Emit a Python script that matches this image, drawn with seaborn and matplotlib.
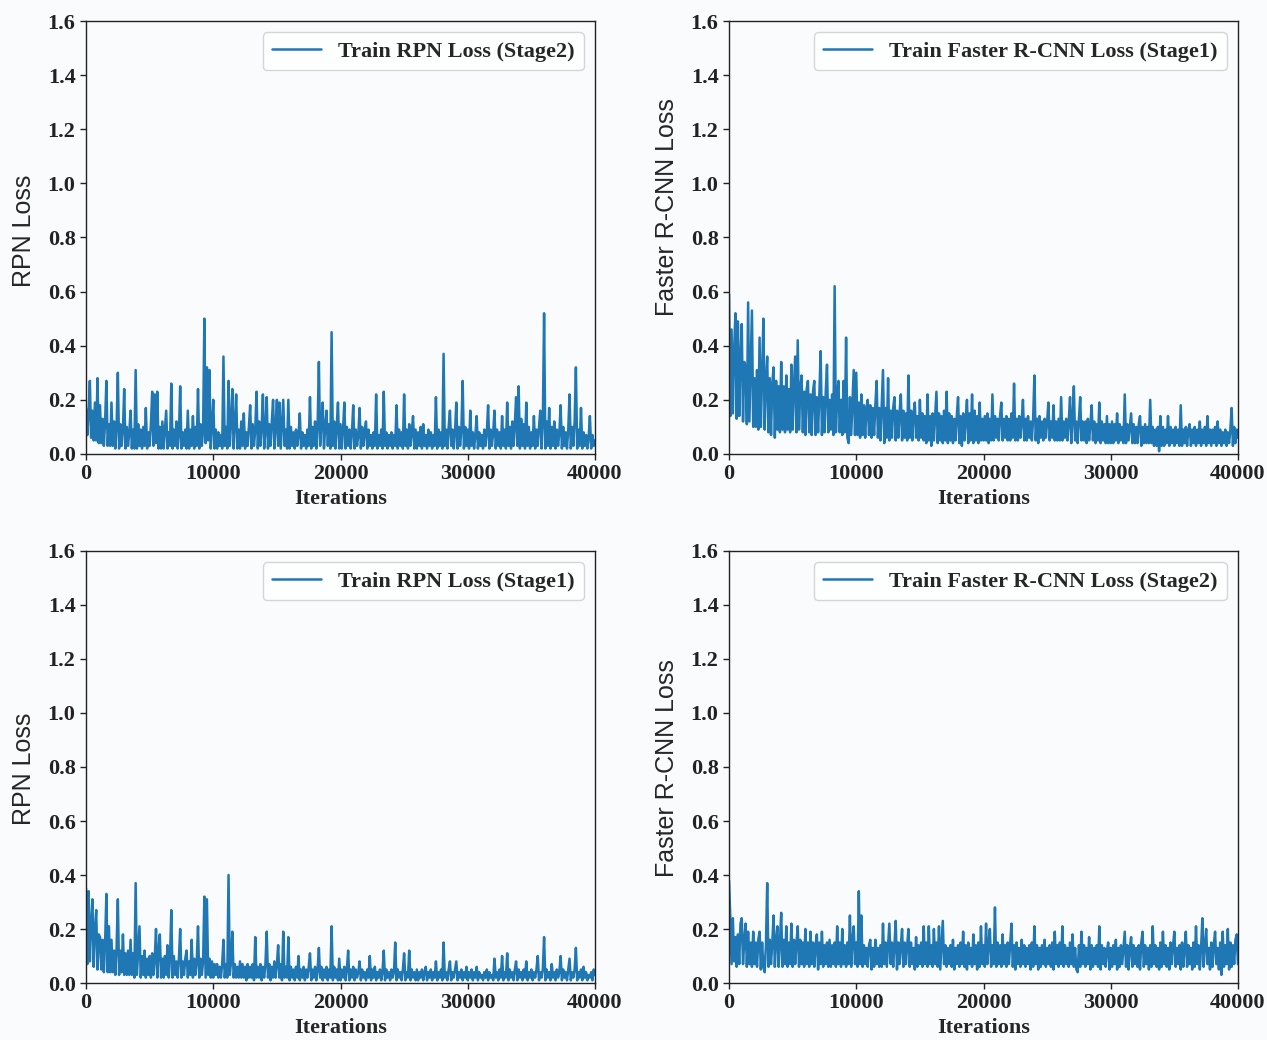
import numpy as np
import pandas as pd
import seaborn as sns
import matplotlib.pyplot as plt

# iterations sampled every 100 steps (0 .. 40000)
iterations = np.arange(0, 40001, 100)

# values, 20 per row (= 2000 iterations per row)
rpn_stage2 = [
    0.17, 0.07, 0.15, 0.27, 0.06, 0.16, 0.05, 0.19, 0.05, 0.28, 0.04, 0.18, 0.04, 0.13, 0.03, 0.12, 0.27, 0.03, 0.11, 0.03,
    0.19, 0.03, 0.12, 0.02, 0.10, 0.30, 0.02, 0.11, 0.03, 0.09, 0.24, 0.02, 0.10, 0.03, 0.08, 0.16, 0.02, 0.09, 0.02, 0.31,
    0.02, 0.11, 0.03, 0.09, 0.02, 0.10, 0.03, 0.17, 0.02, 0.08, 0.03, 0.11, 0.23, 0.03, 0.22, 0.04, 0.23, 0.02, 0.10, 0.02,
    0.12, 0.02, 0.09, 0.16, 0.02, 0.08, 0.03, 0.26, 0.02, 0.09, 0.03, 0.12, 0.02, 0.07, 0.25, 0.02, 0.08, 0.03, 0.09, 0.02,
    0.16, 0.02, 0.09, 0.03, 0.14, 0.02, 0.10, 0.03, 0.24, 0.02, 0.11, 0.03, 0.09, 0.50, 0.04, 0.32, 0.05, 0.31, 0.02, 0.10,
    0.20, 0.02, 0.09, 0.02, 0.08, 0.03, 0.07, 0.02, 0.36, 0.03, 0.10, 0.02, 0.27, 0.03, 0.12, 0.24, 0.02, 0.11, 0.22, 0.02,
    0.09, 0.02, 0.12, 0.03, 0.15, 0.02, 0.08, 0.03, 0.10, 0.18, 0.02, 0.11, 0.03, 0.09, 0.23, 0.02, 0.12, 0.03, 0.10, 0.22,
    0.02, 0.09, 0.21, 0.02, 0.11, 0.03, 0.12, 0.20, 0.02, 0.10, 0.20, 0.03, 0.19, 0.02, 0.11, 0.20, 0.03, 0.09, 0.02, 0.20,
    0.02, 0.10, 0.03, 0.08, 0.02, 0.09, 0.03, 0.07, 0.15, 0.02, 0.08, 0.03, 0.07, 0.02, 0.09, 0.03, 0.21, 0.02, 0.10, 0.03,
    0.12, 0.02, 0.10, 0.34, 0.03, 0.12, 0.19, 0.02, 0.10, 0.16, 0.03, 0.11, 0.02, 0.45, 0.03, 0.12, 0.02, 0.10, 0.19, 0.02,
    0.11, 0.02, 0.09, 0.19, 0.02, 0.10, 0.03, 0.09, 0.02, 0.08, 0.18, 0.02, 0.09, 0.03, 0.07, 0.17, 0.02, 0.10, 0.03, 0.08,
    0.12, 0.02, 0.09, 0.03, 0.07, 0.02, 0.08, 0.03, 0.22, 0.02, 0.07, 0.03, 0.09, 0.02, 0.23, 0.03, 0.08, 0.02, 0.07, 0.03,
    0.08, 0.02, 0.07, 0.03, 0.18, 0.02, 0.09, 0.03, 0.08, 0.02, 0.22, 0.03, 0.09, 0.02, 0.11, 0.03, 0.08, 0.14, 0.02, 0.09,
    0.02, 0.08, 0.03, 0.10, 0.02, 0.11, 0.03, 0.07, 0.02, 0.09, 0.03, 0.08, 0.02, 0.07, 0.03, 0.21, 0.02, 0.09, 0.03, 0.08,
    0.02, 0.37, 0.03, 0.09, 0.02, 0.10, 0.16, 0.03, 0.09, 0.02, 0.08, 0.19, 0.02, 0.10, 0.03, 0.09, 0.27, 0.02, 0.10, 0.03,
    0.09, 0.02, 0.16, 0.03, 0.08, 0.02, 0.07, 0.14, 0.02, 0.08, 0.03, 0.07, 0.02, 0.09, 0.03, 0.08, 0.18, 0.02, 0.09, 0.03,
    0.08, 0.16, 0.02, 0.09, 0.03, 0.08, 0.02, 0.14, 0.03, 0.09, 0.02, 0.19, 0.03, 0.10, 0.02, 0.12, 0.03, 0.11, 0.21, 0.03,
    0.25, 0.02, 0.13, 0.03, 0.11, 0.02, 0.19, 0.03, 0.10, 0.02, 0.08, 0.03, 0.14, 0.02, 0.09, 0.03, 0.10, 0.16, 0.02, 0.11,
    0.52, 0.02, 0.12, 0.03, 0.17, 0.02, 0.10, 0.03, 0.12, 0.02, 0.09, 0.03, 0.08, 0.18, 0.02, 0.10, 0.03, 0.08, 0.02, 0.09,
    0.22, 0.02, 0.10, 0.03, 0.12, 0.32, 0.02, 0.09, 0.03, 0.17, 0.02, 0.08, 0.03, 0.07, 0.02, 0.06, 0.14, 0.02, 0.07, 0.03,
    0.05,
]

frcnn_stage1 = [
    0.59, 0.14, 0.46, 0.15, 0.38, 0.52, 0.13, 0.49, 0.14, 0.36, 0.48, 0.12, 0.34, 0.32, 0.11, 0.56, 0.12, 0.33, 0.53, 0.10,
    0.28, 0.10, 0.31, 0.09, 0.43, 0.10, 0.29, 0.50, 0.09, 0.27, 0.36, 0.08, 0.28, 0.07, 0.26, 0.32, 0.06, 0.27, 0.09, 0.25,
    0.08, 0.34, 0.09, 0.25, 0.08, 0.29, 0.09, 0.24, 0.08, 0.33, 0.09, 0.25, 0.36, 0.08, 0.42, 0.09, 0.24, 0.29, 0.08, 0.23,
    0.07, 0.24, 0.27, 0.08, 0.22, 0.07, 0.23, 0.27, 0.07, 0.21, 0.08, 0.22, 0.38, 0.07, 0.21, 0.08, 0.23, 0.33, 0.08, 0.20,
    0.09, 0.22, 0.07, 0.62, 0.08, 0.21, 0.27, 0.08, 0.20, 0.07, 0.27, 0.08, 0.43, 0.06, 0.04, 0.21, 0.07, 0.19, 0.31, 0.07,
    0.30, 0.07, 0.19, 0.06, 0.22, 0.07, 0.18, 0.06, 0.17, 0.20, 0.07, 0.18, 0.06, 0.17, 0.07, 0.18, 0.27, 0.06, 0.17, 0.05,
    0.18, 0.31, 0.04, 0.17, 0.06, 0.28, 0.05, 0.16, 0.06, 0.17, 0.21, 0.05, 0.16, 0.06, 0.15, 0.22, 0.05, 0.16, 0.06, 0.15,
    0.05, 0.29, 0.06, 0.16, 0.05, 0.15, 0.19, 0.06, 0.14, 0.05, 0.20, 0.06, 0.15, 0.05, 0.14, 0.04, 0.22, 0.05, 0.14, 0.03,
    0.15, 0.05, 0.14, 0.23, 0.04, 0.15, 0.05, 0.14, 0.04, 0.16, 0.05, 0.23, 0.04, 0.15, 0.05, 0.14, 0.04, 0.13, 0.05, 0.14,
    0.21, 0.04, 0.14, 0.03, 0.15, 0.05, 0.13, 0.20, 0.04, 0.15, 0.05, 0.22, 0.04, 0.16, 0.05, 0.14, 0.04, 0.19, 0.05, 0.13,
    0.05, 0.14, 0.05, 0.15, 0.04, 0.13, 0.05, 0.22, 0.05, 0.14, 0.06, 0.13, 0.05, 0.14, 0.19, 0.05, 0.13, 0.06, 0.14, 0.05,
    0.13, 0.05, 0.15, 0.06, 0.26, 0.05, 0.13, 0.05, 0.14, 0.06, 0.12, 0.20, 0.05, 0.13, 0.05, 0.14, 0.06, 0.12, 0.05, 0.13,
    0.29, 0.05, 0.13, 0.04, 0.14, 0.06, 0.12, 0.05, 0.13, 0.06, 0.12, 0.19, 0.05, 0.12, 0.06, 0.18, 0.05, 0.12, 0.05, 0.13,
    0.05, 0.21, 0.05, 0.12, 0.06, 0.13, 0.05, 0.12, 0.21, 0.04, 0.13, 0.25, 0.05, 0.12, 0.04, 0.13, 0.21, 0.05, 0.12, 0.05,
    0.12, 0.04, 0.13, 0.05, 0.11, 0.18, 0.05, 0.12, 0.04, 0.11, 0.05, 0.19, 0.04, 0.12, 0.05, 0.11, 0.04, 0.14, 0.04, 0.11,
    0.04, 0.12, 0.04, 0.11, 0.05, 0.15, 0.04, 0.11, 0.05, 0.10, 0.04, 0.22, 0.04, 0.11, 0.05, 0.10, 0.15, 0.04, 0.11, 0.04,
    0.10, 0.04, 0.11, 0.14, 0.03, 0.10, 0.04, 0.11, 0.04, 0.10, 0.04, 0.20, 0.04, 0.10, 0.03, 0.09, 0.03, 0.10, 0.01, 0.14,
    0.03, 0.10, 0.03, 0.09, 0.04, 0.14, 0.03, 0.10, 0.04, 0.09, 0.03, 0.10, 0.04, 0.09, 0.03, 0.18, 0.03, 0.09, 0.04, 0.10,
    0.03, 0.09, 0.11, 0.03, 0.09, 0.04, 0.10, 0.03, 0.09, 0.04, 0.12, 0.03, 0.09, 0.04, 0.10, 0.03, 0.14, 0.04, 0.09, 0.03,
    0.09, 0.04, 0.10, 0.03, 0.12, 0.04, 0.09, 0.03, 0.08, 0.04, 0.09, 0.03, 0.08, 0.04, 0.09, 0.17, 0.03, 0.10, 0.04, 0.09,
    0.06,
]

rpn_stage1 = [
    0.35, 0.07, 0.34, 0.08, 0.22, 0.31, 0.06, 0.20, 0.27, 0.05, 0.18, 0.17, 0.05, 0.16, 0.04, 0.15, 0.33, 0.04, 0.21, 0.04,
    0.16, 0.04, 0.12, 0.03, 0.13, 0.31, 0.03, 0.12, 0.04, 0.18, 0.03, 0.11, 0.03, 0.12, 0.03, 0.16, 0.03, 0.11, 0.02, 0.37,
    0.03, 0.12, 0.21, 0.02, 0.10, 0.03, 0.12, 0.02, 0.09, 0.03, 0.10, 0.02, 0.11, 0.03, 0.09, 0.20, 0.02, 0.12, 0.18, 0.02,
    0.09, 0.02, 0.10, 0.03, 0.14, 0.02, 0.09, 0.27, 0.02, 0.10, 0.03, 0.08, 0.02, 0.09, 0.20, 0.02, 0.08, 0.03, 0.09, 0.12,
    0.02, 0.08, 0.03, 0.16, 0.02, 0.09, 0.03, 0.08, 0.21, 0.02, 0.09, 0.03, 0.08, 0.32, 0.02, 0.31, 0.03, 0.09, 0.02, 0.08,
    0.02, 0.07, 0.03, 0.07, 0.02, 0.06, 0.02, 0.07, 0.16, 0.02, 0.07, 0.02, 0.40, 0.03, 0.08, 0.19, 0.02, 0.07, 0.02, 0.06,
    0.02, 0.08, 0.02, 0.07, 0.02, 0.06, 0.01, 0.07, 0.02, 0.06, 0.02, 0.07, 0.01, 0.17, 0.02, 0.06, 0.02, 0.07, 0.01, 0.06,
    0.02, 0.07, 0.19, 0.02, 0.07, 0.01, 0.06, 0.02, 0.08, 0.02, 0.07, 0.14, 0.02, 0.07, 0.01, 0.19, 0.02, 0.06, 0.02, 0.17,
    0.01, 0.06, 0.02, 0.05, 0.01, 0.06, 0.02, 0.10, 0.01, 0.05, 0.02, 0.06, 0.01, 0.05, 0.02, 0.06, 0.11, 0.01, 0.05, 0.02,
    0.06, 0.01, 0.05, 0.13, 0.02, 0.06, 0.01, 0.05, 0.02, 0.06, 0.01, 0.05, 0.02, 0.21, 0.01, 0.06, 0.02, 0.05, 0.01, 0.09,
    0.01, 0.05, 0.02, 0.06, 0.01, 0.05, 0.12, 0.01, 0.05, 0.02, 0.06, 0.01, 0.05, 0.02, 0.04, 0.08, 0.01, 0.05, 0.02, 0.04,
    0.01, 0.05, 0.02, 0.10, 0.01, 0.05, 0.02, 0.06, 0.01, 0.04, 0.02, 0.05, 0.01, 0.04, 0.12, 0.01, 0.05, 0.02, 0.04, 0.01,
    0.05, 0.02, 0.04, 0.15, 0.01, 0.05, 0.02, 0.04, 0.01, 0.05, 0.11, 0.01, 0.04, 0.02, 0.12, 0.01, 0.05, 0.02, 0.04, 0.01,
    0.05, 0.01, 0.04, 0.02, 0.05, 0.01, 0.04, 0.06, 0.01, 0.04, 0.02, 0.05, 0.01, 0.04, 0.02, 0.08, 0.01, 0.04, 0.02, 0.05,
    0.01, 0.15, 0.02, 0.04, 0.01, 0.05, 0.08, 0.01, 0.04, 0.02, 0.05, 0.08, 0.01, 0.04, 0.02, 0.05, 0.01, 0.04, 0.02, 0.06,
    0.01, 0.04, 0.02, 0.05, 0.01, 0.04, 0.02, 0.06, 0.01, 0.04, 0.02, 0.03, 0.01, 0.04, 0.02, 0.05, 0.01, 0.04, 0.02, 0.03,
    0.01, 0.09, 0.02, 0.04, 0.01, 0.05, 0.02, 0.10, 0.01, 0.04, 0.02, 0.11, 0.01, 0.05, 0.02, 0.04, 0.01, 0.05, 0.08, 0.01,
    0.05, 0.02, 0.04, 0.01, 0.05, 0.02, 0.08, 0.01, 0.04, 0.02, 0.05, 0.01, 0.04, 0.02, 0.05, 0.10, 0.01, 0.04, 0.02, 0.05,
    0.17, 0.01, 0.05, 0.02, 0.04, 0.01, 0.07, 0.02, 0.04, 0.01, 0.05, 0.02, 0.04, 0.10, 0.01, 0.05, 0.02, 0.04, 0.01, 0.05,
    0.09, 0.01, 0.04, 0.02, 0.05, 0.13, 0.01, 0.04, 0.02, 0.05, 0.01, 0.06, 0.02, 0.04, 0.01, 0.03, 0.02, 0.04, 0.01, 0.05,
    0.03,
]

frcnn_stage2 = [
    0.38, 0.24, 0.07, 0.24, 0.08, 0.17, 0.06, 0.18, 0.07, 0.22, 0.24, 0.07, 0.16, 0.22, 0.06, 0.19, 0.07, 0.15, 0.06, 0.19,
    0.07, 0.15, 0.06, 0.16, 0.19, 0.05, 0.15, 0.06, 0.04, 0.14, 0.37, 0.06, 0.16, 0.07, 0.15, 0.25, 0.06, 0.16, 0.21, 0.06,
    0.15, 0.26, 0.06, 0.16, 0.07, 0.21, 0.06, 0.15, 0.07, 0.22, 0.06, 0.16, 0.07, 0.15, 0.21, 0.06, 0.16, 0.07, 0.15, 0.06,
    0.20, 0.07, 0.15, 0.06, 0.19, 0.07, 0.15, 0.06, 0.14, 0.18, 0.05, 0.15, 0.07, 0.19, 0.06, 0.14, 0.07, 0.15, 0.06, 0.16,
    0.06, 0.14, 0.07, 0.15, 0.06, 0.21, 0.07, 0.15, 0.06, 0.20, 0.07, 0.14, 0.06, 0.15, 0.07, 0.25, 0.06, 0.16, 0.21, 0.07,
    0.15, 0.06, 0.34, 0.07, 0.25, 0.06, 0.14, 0.07, 0.13, 0.06, 0.14, 0.16, 0.05, 0.13, 0.06, 0.16, 0.07, 0.13, 0.06, 0.14,
    0.06, 0.22, 0.07, 0.15, 0.06, 0.14, 0.22, 0.07, 0.15, 0.06, 0.14, 0.23, 0.05, 0.15, 0.07, 0.14, 0.20, 0.06, 0.15, 0.07,
    0.14, 0.20, 0.06, 0.15, 0.07, 0.13, 0.05, 0.17, 0.06, 0.14, 0.07, 0.15, 0.06, 0.21, 0.07, 0.15, 0.06, 0.21, 0.07, 0.14,
    0.06, 0.20, 0.07, 0.15, 0.06, 0.21, 0.05, 0.14, 0.23, 0.07, 0.14, 0.06, 0.13, 0.07, 0.14, 0.06, 0.16, 0.05, 0.13, 0.07,
    0.14, 0.06, 0.15, 0.07, 0.19, 0.06, 0.14, 0.05, 0.15, 0.07, 0.13, 0.06, 0.18, 0.07, 0.14, 0.05, 0.15, 0.06, 0.21, 0.07,
    0.14, 0.06, 0.22, 0.07, 0.15, 0.20, 0.06, 0.14, 0.07, 0.28, 0.06, 0.15, 0.07, 0.14, 0.06, 0.18, 0.07, 0.14, 0.06, 0.15,
    0.07, 0.15, 0.22, 0.06, 0.14, 0.05, 0.15, 0.07, 0.13, 0.06, 0.16, 0.07, 0.14, 0.06, 0.13, 0.07, 0.14, 0.05, 0.15, 0.06,
    0.21, 0.07, 0.14, 0.05, 0.13, 0.06, 0.14, 0.07, 0.16, 0.06, 0.13, 0.07, 0.14, 0.06, 0.15, 0.05, 0.19, 0.07, 0.14, 0.06,
    0.15, 0.07, 0.21, 0.06, 0.14, 0.07, 0.13, 0.06, 0.15, 0.07, 0.18, 0.06, 0.13, 0.05, 0.04, 0.14, 0.06, 0.19, 0.07, 0.14,
    0.06, 0.13, 0.07, 0.17, 0.05, 0.14, 0.06, 0.13, 0.07, 0.14, 0.06, 0.21, 0.05, 0.14, 0.07, 0.13, 0.06, 0.12, 0.15, 0.05,
    0.13, 0.06, 0.14, 0.07, 0.16, 0.05, 0.13, 0.06, 0.14, 0.07, 0.13, 0.19, 0.06, 0.14, 0.05, 0.13, 0.17, 0.06, 0.14, 0.07,
    0.13, 0.06, 0.14, 0.05, 0.15, 0.19, 0.06, 0.14, 0.07, 0.13, 0.05, 0.14, 0.06, 0.21, 0.07, 0.14, 0.06, 0.13, 0.05, 0.15,
    0.06, 0.19, 0.07, 0.14, 0.06, 0.13, 0.05, 0.15, 0.07, 0.14, 0.19, 0.06, 0.13, 0.07, 0.14, 0.05, 0.15, 0.06, 0.13, 0.19,
    0.06, 0.14, 0.07, 0.13, 0.05, 0.15, 0.06, 0.21, 0.07, 0.14, 0.05, 0.13, 0.24, 0.06, 0.14, 0.20, 0.07, 0.13, 0.05, 0.15,
    0.06, 0.14, 0.19, 0.07, 0.13, 0.05, 0.15, 0.03, 0.19, 0.06, 0.14, 0.07, 0.20, 0.05, 0.15, 0.06, 0.14, 0.07, 0.16, 0.18,
    0.07,
]

# (values, y label, legend text, y position of the y label in axes fraction)
panels = [
    (rpn_stage2, "RPN Loss", "Train RPN Loss (Stage2)", 0.515),
    (frcnn_stage1, "Faster R-CNN Loss", "Train Faster R-CNN Loss (Stage1)", 0.570),
    (rpn_stage1, "RPN Loss", "Train RPN Loss (Stage1)", 0.495),
    (frcnn_stage2, "Faster R-CNN Loss", "Train Faster R-CNN Loss (Stage2)", 0.498),
]

sns.set_style("ticks")
bg = "#fafbfd"
line_color = "#1f77b4"

fig = plt.figure(figsize=(12.67, 10.40), dpi=100, facecolor=bg)

# axes boxes in figure fractions: [left, bottom, width, height]
boxes = [
    [0.0679, 0.5635, 0.4017, 0.4163],
    [0.5754, 0.5635, 0.4017, 0.4163],
    [0.0679, 0.0548, 0.4017, 0.4154],
    [0.5754, 0.0548, 0.4017, 0.4154],
]

yticks = np.arange(0, 1.61, 0.2)

for (values, ylabel, legend_label, label_y), box in zip(panels, boxes):
    ax = fig.add_axes(box)
    ax.set_facecolor(bg)
    df = pd.DataFrame({"Iterations": iterations, "Loss": values})
    sns.lineplot(data=df, x="Iterations", y="Loss", ax=ax, color=line_color,
                 linewidth=1.8, label=legend_label)

    ax.set_xlim(0, 40000)
    ax.set_ylim(0, 1.6)
    ax.set_xticks([0, 10000, 20000, 30000, 40000])
    ax.set_yticks(yticks)
    ax.set_yticklabels([f"{v:.1f}" for v in yticks])

    for lbl in ax.get_xticklabels() + ax.get_yticklabels():
        lbl.set_fontfamily("Liberation Serif")
        lbl.set_fontweight("bold")
        lbl.set_fontsize(16)

    ax.set_xlabel("Iterations", fontsize=16, labelpad=3,
                  family="Liberation Serif", weight="bold")
    ax.set_ylabel(ylabel, fontsize=18, family="Liberation Sans")
    ax.yaxis.set_label_coords(-0.098, label_y)

    for spine in ax.spines.values():
        spine.set_visible(True)
        spine.set_color("#222222")
        spine.set_linewidth(1.0)
    ax.tick_params(direction="out", length=4, width=1, colors="#222222")

    ax.legend(loc="upper right",
              prop={"family": "Liberation Serif", "weight": "bold", "size": 16},
              frameon=True, framealpha=0.8, edgecolor="#cccccc", handlelength=2.2)

plt.savefig("out.png", dpi=100, facecolor=bg)
